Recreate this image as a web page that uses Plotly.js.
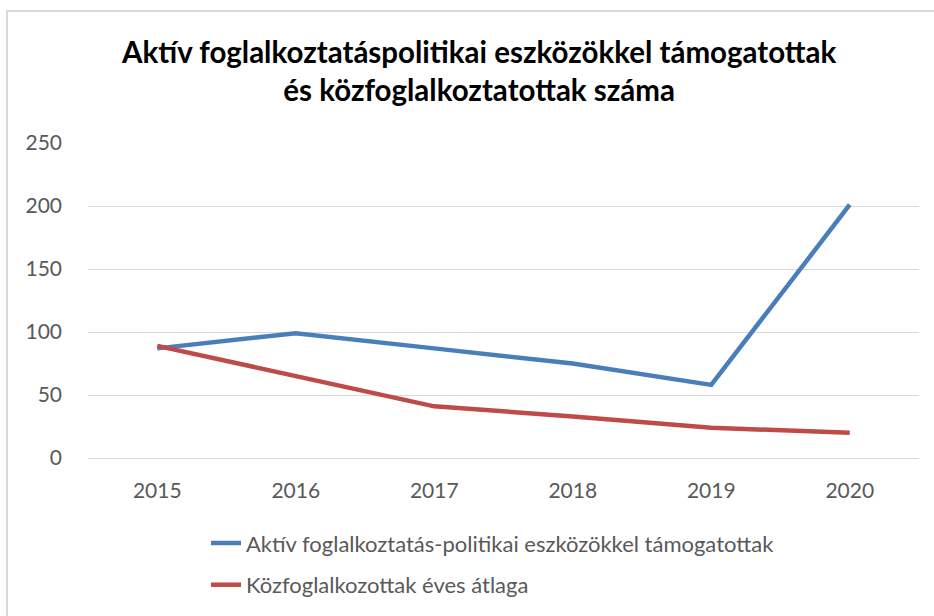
<!DOCTYPE html>
<html>
<head>
<meta charset="utf-8">
<script src="https://cdn.plot.ly/plotly-3.0.1.min.js"></script>
<style>
html,body{margin:0;padding:0;background:#fff;width:934px;height:616px;overflow:hidden;}
#frame{position:absolute;left:6px;top:10px;width:960px;height:640px;border:2px solid #d9d9d9;box-sizing:border-box;}
#chart{position:absolute;left:0;top:0;width:934px;height:616px;}
</style>
</head>
<body>
<div id="frame"></div>
<div id="chart"></div>
<script>
const years = ['2015','2016','2017','2018','2019','2020'];
const aktiv = [87, 99, 87, 75, 58, 201];
const kozfog = [89, 65, 41, 33, 24, 20];
const seriesNames = ['Aktív foglalkoztatás-politikai eszközökkel támogatottak', 'Közfoglalkozottak éves átlaga'];
const titleText = 'Aktív foglalkoztatáspolitikai eszközökkel támogatottak<br>és közfoglalkoztatottak száma';
const yTicks = [0, 50, 100, 150, 200, 250];

const FONT = 'Lato, "Open Sans", sans-serif';
const traces = [
  {x: years, y: aktiv, name: seriesNames[0], type: 'scatter', mode: 'lines',
   line: {color: '#4a7ebb', width: 4.5}, legend: 'legend'},
  {x: years, y: kozfog, name: seriesNames[1], type: 'scatter', mode: 'lines',
   line: {color: '#be4b48', width: 4.5}, legend: 'legend2'}
];
const layout = {
  width: 934, height: 616,
  paper_bgcolor: 'rgba(0,0,0,0)', plot_bgcolor: 'rgba(0,0,0,0)',
  margin: {l: 88, r: 15, t: 143, b: 157},
  font: {family: FONT, color: '#595959', size: 21},
  title: {text: titleText, x: 0.513, xanchor: 'center', y: 0.898, yanchor: 'top',
          font: {family: FONT, size: 29.5, color: '#000', weight: 'bold'}},
  xaxis: {type: 'category', range: [-0.5, 5.5], showgrid: false, showline: false,
          ticks: '', ticklabelstandoff: 18, tickfont: {size: 21, color: '#595959'}, fixedrange: true},
  yaxis: {range: [0, 250], tickvals: yTicks, showgrid: true, gridcolor: '#d9d9d9', gridwidth: 1,
          zeroline: true, zerolinecolor: '#d9d9d9', zerolinewidth: 1, showline: false,
          ticks: '', ticklabelstandoff: 25, tickfont: {size: 21, color: '#595959'}, fixedrange: true},
  showlegend: true,
  legend: {x: 0.142, y: -0.2, xanchor: 'left', yanchor: 'top', bgcolor: 'rgba(0,0,0,0)',
           font: {size: 22, color: '#595959'}},
  legend2: {x: 0.142, y: -0.332, xanchor: 'left', yanchor: 'top', bgcolor: 'rgba(0,0,0,0)',
           font: {size: 22, color: '#595959'}}
};
Plotly.newPlot('chart', traces, layout, {displayModeBar: false, staticPlot: true});
</script>
</body>
</html>
